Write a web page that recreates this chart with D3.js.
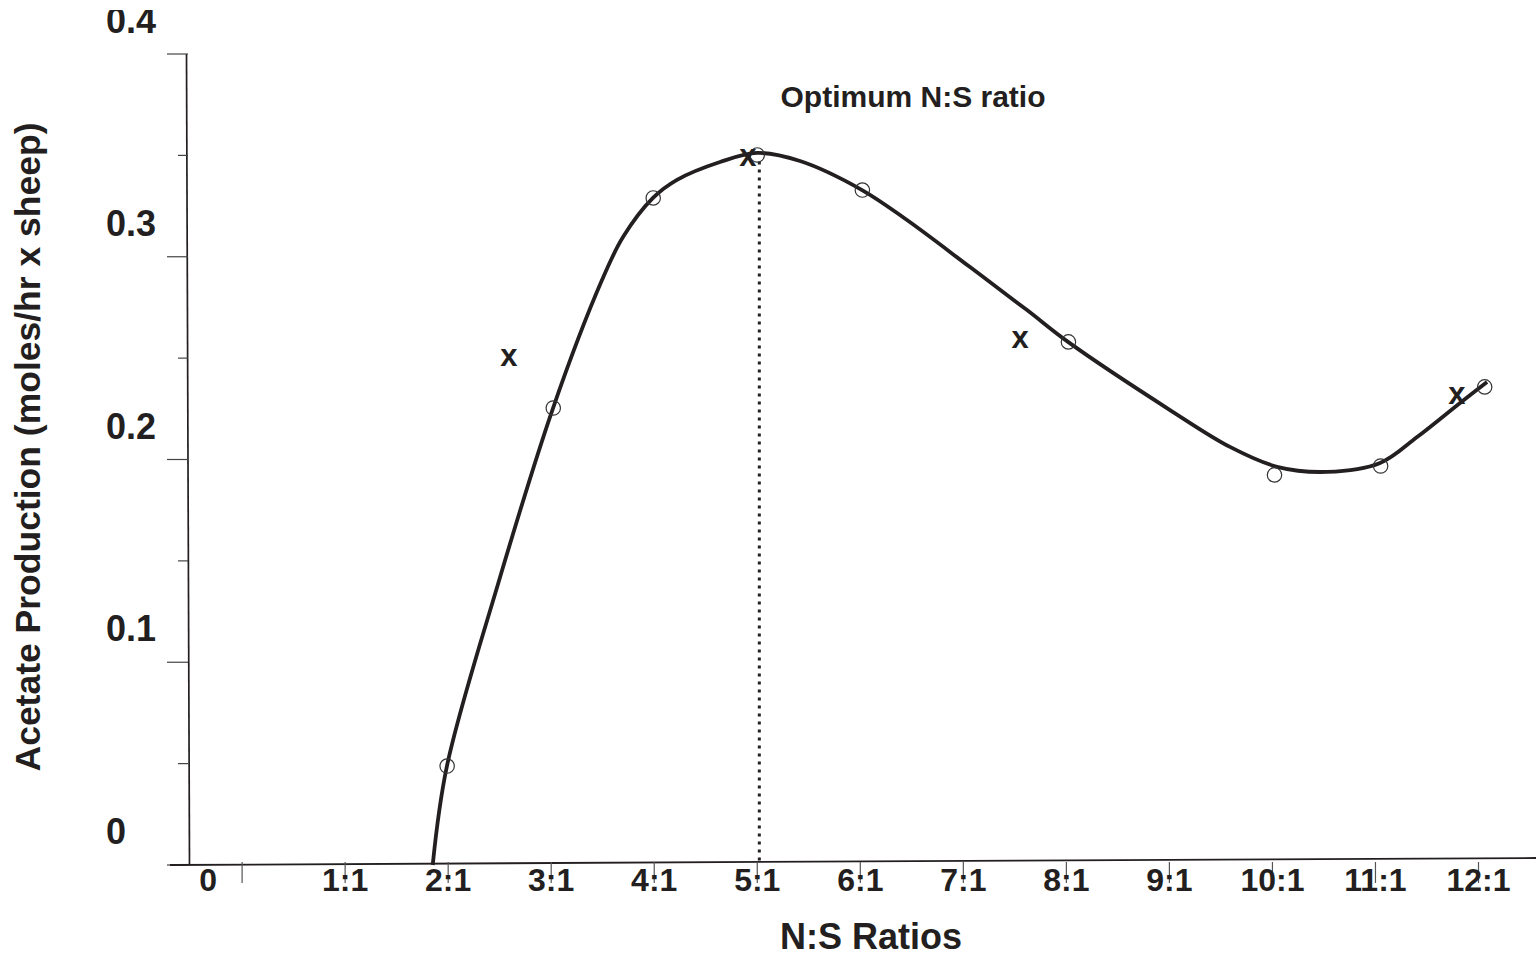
<!DOCTYPE html>
<html>
<head>
<meta charset="utf-8">
<script src="https://cdn.jsdelivr.net/npm/d3@7"></script>
<style>
  html, body { margin: 0; padding: 0; background: #fff; }
  svg { display: block; }
  text { font-family: "Liberation Sans", Arial, Helvetica, sans-serif; font-weight: bold; fill: #231f20; }
</style>
</head>
<body>
<script>
// N:S ratio (x) and acetate production (y)
const xTickValues = [0, 1, 2, 3, 4, 5, 6, 7, 8, 9, 10, 11, 12];
const xTickLabels = ["0", "1:1", "2:1", "3:1", "4:1", "5:1", "6:1", "7:1", "8:1", "9:1", "10:1", "11:1", "12:1"];
const yMajorTicks = [0, 0.1, 0.2, 0.3, 0.4];
const yMajorLabels = ["0", "0.1", "0.2", "0.3", "0.4"];
const yMinorTicks = [0.05, 0.15, 0.25, 0.35];

// Measured points (open circles)
const obsRatio   = [1.99, 3.02, 3.99, 5.0, 6.02, 8.02, 10.02, 11.05, 12.06];
const obsAcetate = [0.0488, 0.2254, 0.329, 0.3502, 0.3329, 0.258, 0.1924, 0.1968, 0.2358];

// Second set of measurements (x marks)
const crossRatio   = [2.59, 4.91, 7.55, 11.79];
const crossAcetate = [0.2515, 0.3503, 0.2604, 0.2328];

// Fitted response curve
const curveRatio = [1.85, 1.988, 2.484, 3.018, 3.493, 3.697, 3.988, 4.221, 4.639, 4.998, 5.415, 6.017,
                    6.453, 7.065, 7.618, 8.016, 9.006, 9.588, 10.045, 10.53, 11.045, 11.404,
                    11.821, 12.083];
const curveAcetate = [0.0, 0.0488, 0.1386, 0.2254, 0.2885, 0.3097, 0.329, 0.3379, 0.3467, 0.3512, 0.3472, 0.3329,
                      0.3181, 0.2949, 0.2737, 0.258, 0.2244, 0.2062, 0.1964, 0.1939, 0.1983, 0.2111,
                      0.2279, 0.2382];

// Optimum ratio marker
const optimumRatio = 5.02;
const optimumLabel = "Optimum N:S ratio";

const W = 1536, H = 958;
const svg = d3.select("body").append("svg").attr("width", W).attr("height", H);

const x = d3.scaleLinear().domain([0, 12]).range([242.1, 1478.5]);
const y = d3.scaleLinear().domain([0, 0.4]).range([865, 54]);

const ink = "#231f20";

// Visible drawing area for the tick labels (the topmost label is trimmed)
svg.append("defs").append("clipPath").attr("id", "labelArea")
  .append("rect").attr("x", 0).attr("y", 10).attr("width", W).attr("height", H - 10);

// ---- Y axis ----
const yAxisX = 188;
svg.append("line")
  .attr("x1", yAxisX - 1.5).attr("y1", y(0.4))
  .attr("x2", yAxisX + 1.5).attr("y2", y(0))
  .attr("stroke", ink).attr("stroke-width", 1.7);

svg.selectAll(".ymaj").data(yMajorTicks).join("line")
  .attr("x1", yAxisX - 21).attr("x2", yAxisX)
  .attr("y1", d => y(d)).attr("y2", d => y(d))
  .attr("stroke", "#444").attr("stroke-width", 1.2);

svg.selectAll(".ymin").data(yMinorTicks).join("line")
  .attr("x1", yAxisX - 10).attr("x2", yAxisX)
  .attr("y1", d => y(d)).attr("y2", d => y(d))
  .attr("stroke", "#444").attr("stroke-width", 1.2);

svg.append("g").attr("clip-path", "url(#labelArea)")
  .selectAll("text").data(yMajorTicks).join("text")
  .attr("x", 106)
  .attr("y", d => y(d) - 21)
  .attr("font-size", 36)
  .text((d, i) => yMajorLabels[i]);

// ---- X axis ----
svg.append("line")
  .attr("x1", 170).attr("y1", y(0))
  .attr("x2", W).attr("y2", y(0) - 7)
  .attr("stroke", ink).attr("stroke-width", 1.8);

svg.selectAll(".xtick").data(xTickValues).join("line")
  .attr("x1", d => x(d)).attr("x2", d => x(d))
  .attr("y1", y(0) - 3).attr("y2", y(0) + 18)
  .attr("stroke", "#555").attr("stroke-width", 1.2);

svg.selectAll(".xlab").data(xTickValues).join("text")
  .attr("x", d => x(d))
  .attr("dx", d => d === 0 ? -34 : 0)
  .attr("y", 891)
  .attr("text-anchor", "middle")
  .attr("font-size", 32)
  .text((d, i) => xTickLabels[i]);

// ---- Axis titles ----
svg.append("text")
  .attr("x", 871).attr("y", 949)
  .attr("text-anchor", "middle")
  .attr("font-size", 36)
  .text("N:S Ratios");

svg.append("text")
  .attr("transform", "translate(40,447) rotate(-90)")
  .attr("text-anchor", "middle")
  .attr("font-size", 35.5)
  .text("Acetate Production (moles/hr x sheep)");

// ---- Optimum marker ----
svg.append("line")
  .attr("x1", x(optimumRatio)).attr("x2", x(optimumRatio))
  .attr("y1", y(0.347)).attr("y2", y(0))
  .attr("stroke", ink).attr("stroke-width", 3)
  .attr("stroke-dasharray", "3,5");

svg.append("text")
  .attr("x", 913).attr("y", 107)
  .attr("text-anchor", "middle")
  .attr("font-size", 30)
  .text(optimumLabel);

// ---- Fitted curve ----
const curvePts = curveRatio.map((r, i) => [r, curveAcetate[i]]);
svg.append("path")
  .datum(curvePts)
  .attr("fill", "none")
  .attr("stroke", ink)
  .attr("stroke-width", 3.8)
  .attr("stroke-linejoin", "round")
  .attr("d", d3.line().x(d => x(d[0])).y(d => y(d[1])).curve(d3.curveCatmullRom.alpha(0.5)));

// ---- Open circles ----
svg.selectAll(".obs").data(obsRatio.map((r, i) => [r, obsAcetate[i]])).join("circle")
  .attr("cx", d => x(d[0])).attr("cy", d => y(d[1]))
  .attr("r", 7.2)
  .attr("fill", "none")
  .attr("stroke", "#333").attr("stroke-width", 1.2);

// ---- x marks ----
svg.selectAll(".cross").data(crossRatio.map((r, i) => [r, crossAcetate[i]])).join("text")
  .attr("x", d => x(d[0])).attr("y", d => y(d[1]))
  .attr("dy", "0.36em")
  .attr("text-anchor", "middle")
  .attr("font-size", 31)
  .text("x");
</script>
</body>
</html>
